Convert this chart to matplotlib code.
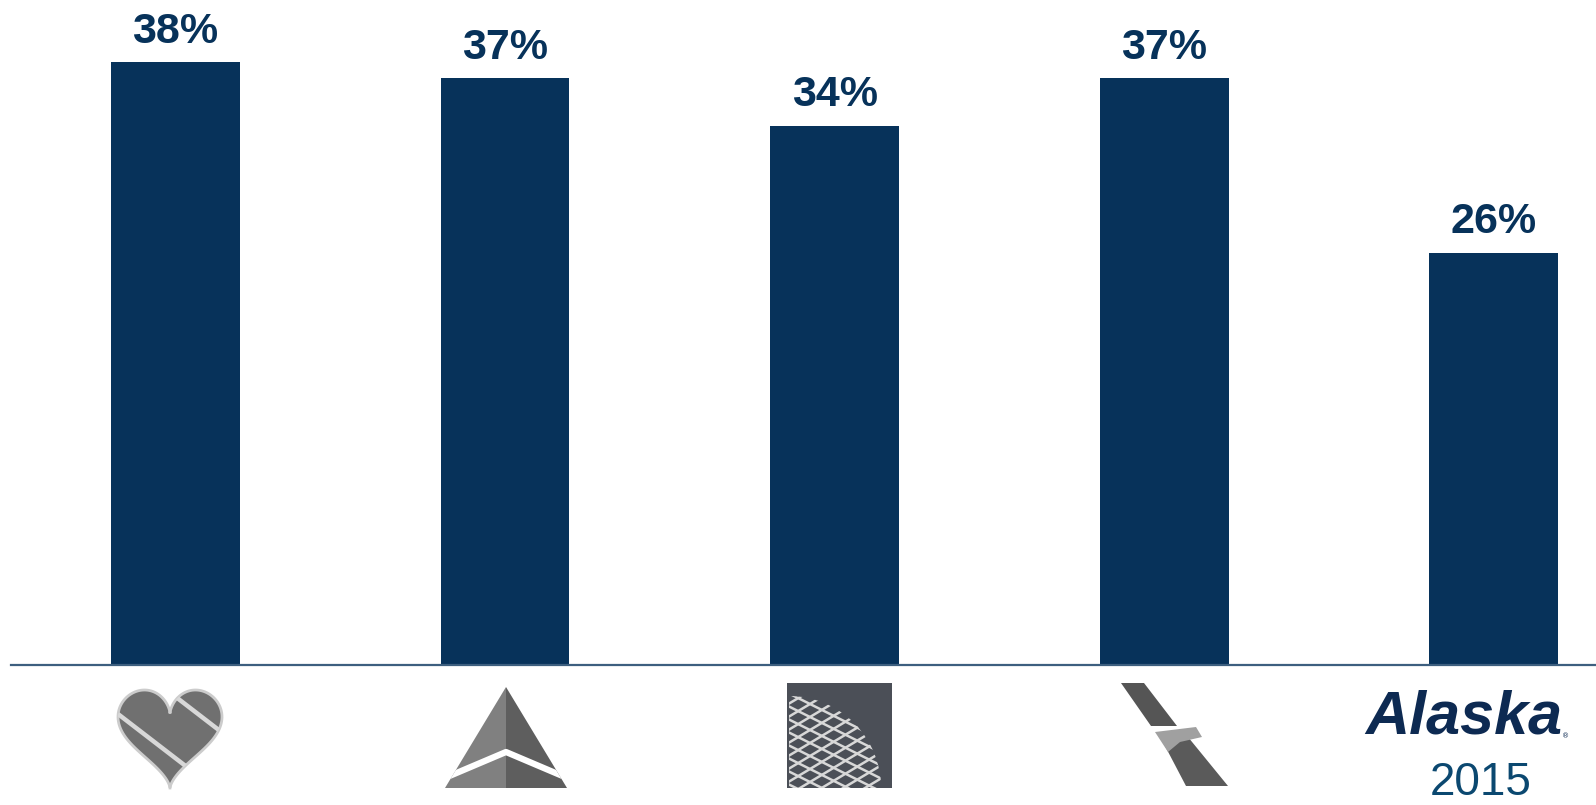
import numpy as np
import matplotlib
matplotlib.use("Agg")
import matplotlib.pyplot as plt
from matplotlib.patches import Polygon, Rectangle, Wedge

# data
airlines = ["Southwest", "Delta", "United", "American", "Alaska"]
values = [38, 37, 34, 37, 26]
labels = ["38%", "37%", "34%", "37%", "26%"]
year_label = "2015"

navy = "#07325a"

W, H = 1596, 805
fig = plt.figure(figsize=(W / 100, H / 100), dpi=100)

# main bar axes
ax = fig.add_axes([11 / W, (H - 664.7) / H, 1 - 11 / W, 664.7 / H])
x = np.arange(len(values))
ax.bar(x, values, width=0.391, color=navy, zorder=2)
for xi, v, lab in zip(x, values, labels):
    ax.annotate(lab, (xi, v), xytext=(0, 14), textcoords="offset points",
                ha="center", va="baseline", fontsize=31, fontweight="bold",
                color=navy, family=["Liberation Sans", "DejaVu Sans"])

ax.set_xlim(-0.499, 4.31)
ax.set_ylim(0, 664.7 / 15.85)
for s in ["top", "right", "left"]:
    ax.spines[s].set_visible(False)
ax.spines["bottom"].set_color("#3d5f7f")
ax.spines["bottom"].set_linewidth(1.6)
ax.set_xticks([])
ax.set_yticks([])

# overlay in pixel coords for the logos under the bars
lx = fig.add_axes([0, 0, 1, 1], zorder=5)
lx.set_xlim(0, W)
lx.set_ylim(H, 0)
lx.axis("off")
lx.patch.set_alpha(0)

# Southwest heart
t = np.linspace(0, 2 * np.pi, 200)
hx = 16 * np.sin(t) ** 3
hy = -(13 * np.cos(t) - 5 * np.cos(2 * t) - 2 * np.cos(3 * t) - np.cos(4 * t))
hx = 170 + hx * 3.25
hy = 690 + (hy - hy.min()) * 98 / (hy.max() - hy.min())
heart = Polygon(np.column_stack([hx, hy]), closed=True, facecolor="#707070",
                edgecolor="#cccccc", linewidth=2)
lx.add_patch(heart)
for (x0, y0, x1, y1) in [(118, 714, 196, 774), (172, 694, 224, 734)]:
    ln, = lx.plot([x0, x1], [y0, y1], color="#d8d8d8", lw=3.2, solid_capstyle="butt")
    ln.set_clip_path(heart)

# Delta widget
lx.add_patch(Polygon([[506, 687], [445, 788], [506, 788]], closed=True, facecolor="#808080", edgecolor="none"))
lx.add_patch(Polygon([[506, 687], [567, 788], [506, 788]], closed=True, facecolor="#5e5e5e", edgecolor="none"))
tri = Polygon([[506, 687], [445, 788], [567, 788]], closed=True, facecolor="none", edgecolor="none")
lx.add_patch(tri)
ch, = lx.plot([440, 506, 572], [780, 752, 780], color="white", lw=4.5)
ch.set_clip_path(tri)

# United globe
lx.add_patch(Rectangle((787, 683), 105, 105, facecolor="#4b4f57", edgecolor="none"))
globe = Wedge((789, 788), 92, 270, 360, facecolor="none", edgecolor="none")
lx.add_patch(globe)
for off in np.arange(-120, 200, 13):
    l1, = lx.plot([700, 900], [600 + off, 700 + off], color="#d8d8d8", lw=1.8)
    l1.set_clip_path(globe)
    l2, = lx.plot([700, 900], [760 + off, 640 + off], color="#d8d8d8", lw=1.8)
    l2.set_clip_path(globe)

# American flight symbol
lx.add_patch(Polygon([[1121, 683], [1144, 683], [1177, 726], [1151, 726]], closed=True,
                     facecolor="#555555", edgecolor="none"))
lx.add_patch(Polygon([[1164, 744], [1188, 737], [1228, 786], [1186, 786]], closed=True,
                     facecolor="#5a5a5a", edgecolor="none"))
lx.add_patch(Polygon([[1155, 732], [1196, 727], [1202, 737], [1180, 742], [1168, 752]], closed=True,
                     facecolor="#a0a0a0", edgecolor="none"))

# Alaska wordmark and year
lx.text(1464, 733, "Alaska", ha="center", va="baseline", fontsize=44, fontweight="bold",
        fontstyle="italic", color="#0d2a52", family=["Liberation Sans", "DejaVu Sans"])
lx.text(1566, 738, "®", ha="center", va="baseline", fontsize=5, color="#0d2a52")
lx.text(1481, 805, year_label, ha="center", va="bottom", fontsize=33,
        color="#0b4870", family=["Liberation Sans", "DejaVu Sans"])

fig.savefig("out.png", dpi=100)
